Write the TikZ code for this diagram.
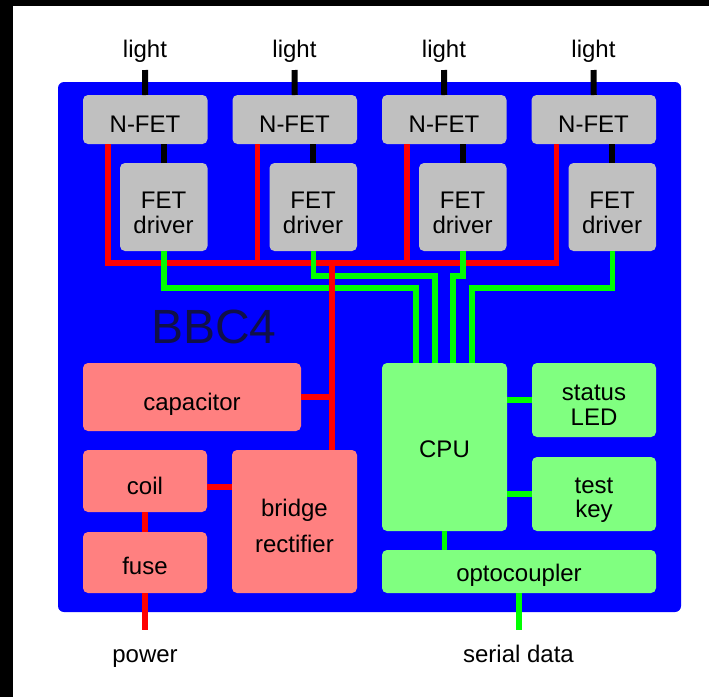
\documentclass[tikz,border=0pt]{standalone}
\usepackage{fontspec}
\setmainfont{Liberation Sans}
\definecolor{bluebg}{RGB}{0,0,255}
\definecolor{grayfill}{RGB}{192,192,192}
\definecolor{redfill}{RGB}{255,128,128}
\definecolor{greenfill}{RGB}{128,255,128}
\definecolor{redline}{RGB}{255,0,0}
\definecolor{greenline}{RGB}{0,255,0}
\definecolor{bbctext}{RGB}{16,16,72}
\tikzset{
  box/.style={draw=none, rounded corners=5pt, inner sep=0pt, outer sep=0pt, anchor=north west},
  graybox/.style={box, fill=grayfill},
  redbox/.style={box, fill=redfill},
  greenbox/.style={box, fill=greenfill},
  txt/.style={anchor=base, inner sep=0pt, font=\fontsize{24}{25}\selectfont},
  blackwire/.style={draw=black, line width=6pt},
  redwire/.style={draw=redline, line width=5.5pt, line join=miter},
  greenwire/.style={draw=greenline, line width=5.5pt, line join=miter},
}
\begin{document}
\begin{tikzpicture}[x=1pt,y=-1pt]
\useasboundingbox (0,0) rectangle (709,697);
\fill[white] (0,0) rectangle (709,697);
\fill[black] (0,0) rectangle (709,6);
\fill[black] (0,0) rectangle (13,697);
% main board
\fill[bluebg, rounded corners=6pt] (58,82) rectangle (681,612);
\node[anchor=base, inner sep=0pt, text=bbctext, font=\fontsize{48}{50}\selectfont] (bbc) at (214,343) {BBC4};
% N-FETs and drivers
\foreach \i/\x in {1/83, 2/232.5, 3/382, 4/531.5}{
  \node[graybox, minimum width=124.5pt, minimum height=49pt] (nfet\i) at (\x,95) {};
  \node[graybox, minimum width=87.5pt, minimum height=88pt] (drv\i) at (\x+37,163) {};
}
% power boxes
\node[redbox, minimum width=218pt, minimum height=68pt] (cap) at (83,363) {};
\node[redbox, minimum width=124pt, minimum height=62pt] (coil) at (83,450) {};
\node[redbox, minimum width=124pt, minimum height=61pt] (fuse) at (83,532) {};
\node[redbox, minimum width=125pt, minimum height=143pt] (bridge) at (232,450) {};
% logic boxes
\node[greenbox, minimum width=125pt, minimum height=168pt] (cpu) at (382,363) {};
\node[greenbox, minimum width=124pt, minimum height=74pt] (status) at (532,363) {};
\node[greenbox, minimum width=124pt, minimum height=74pt] (testkey) at (532,457) {};
\node[greenbox, minimum width=274pt, minimum height=43pt] (opto) at (382,550) {};
% coordinates
\coordinate (rbus) at (0,263);
\coordinate (rj) at (332,263);
\coordinate (pw) at (145,630);
\coordinate (sd) at (519,630);
\coordinate (g1) at (416,288);
\coordinate (g2) at (435,276);
\coordinate (g3) at (453,276);
\coordinate (g4) at (472,288);
% black wires
\foreach \i/\x in {1/145, 2/294.5, 3/444, 4/593.5}{
  \coordinate (lt\i) at (\x,70);
  \draw[blackwire] (nfet\i.north) -- (lt\i);
  \draw[blackwire] (drv\i.north) -- (drv\i.north |- nfet\i.south);
  \node[txt] (light\i) at (\x,57) {light};
}
% red bus
\draw[redwire] ([xshift=25pt]nfet1.south west) -- ([xshift=25pt]nfet1.south west |- rbus) -- ([xshift=25pt]nfet4.south west |- rbus) -- ([xshift=25pt]nfet4.south west);
\draw[redwire] ([xshift=25pt]nfet2.south west) -- ([xshift=25pt]nfet2.south west |- rbus);
\draw[redwire] ([xshift=25pt]nfet3.south west) -- ([xshift=25pt]nfet3.south west |- rbus);
% green driver lines
\draw[greenwire] (drv1.south) |- (g1) -- (g1 |- cpu.north);
\draw[greenwire] (drv2.south) |- (g2) -- (g2 |- cpu.north);
\draw[greenwire] (drv3.south) |- (g3) -- (g3 |- cpu.north);
\draw[greenwire] (drv4.south) |- (g4) -- (g4 |- cpu.north);
% red power lines
\draw[redwire] ([yshift=2.75pt]rj) -- (rj |- bridge.north);
\draw[redwire] (cap.east) -- (cap.east -| rj);
\draw[redwire] ([yshift=-6pt]coil.east) -- ([yshift=-6pt]coil.east -| bridge.west);
\draw[redwire] (coil.south) -- (fuse.north);
\draw[redwire] (fuse.south) -- (pw);
% green logic lines
\draw[greenwire] (status.west) -- (status.west -| cpu.east);
\draw[greenwire] (testkey.west) -- (testkey.west -| cpu.east);
\draw[greenwire] (cpu.south) -- (cpu.south |- opto.north);
\draw[greenwire] (opto.south) -- (sd);
% texts
\foreach \i/\x in {1/145, 2/294.5, 3/444, 4/593.5}{
  \node[txt] (nfett\i) at (\x,132) {N-FET};
  \node[txt] (drvta\i) at (\x+18.5,208) {FET};
  \node[txt] (drvtb\i) at (\x+18.5,233) {driver};
}
\node[txt] (capt) at (192,410) {capacitor};
\node[txt] (coilt) at (145,494) {coil};
\node[txt] (fuset) at (145,574) {fuse};
\node[txt] (bridgeta) at (294.5,516) {bridge};
\node[txt] (bridgetb) at (294.5,552) {rectifier};
\node[txt] (cput) at (444.5,457) {CPU};
\node[txt] (statusta) at (594,400) {status};
\node[txt] (statustb) at (594,425) {LED};
\node[txt] (testta) at (594,493) {test};
\node[txt] (testtb) at (594,517) {key};
\node[txt] (optot) at (519,581) {optocoupler};
\node[txt] (powert) at (145,662) {power};
\node[txt] (serialt) at (518.5,662) {serial data};
\end{tikzpicture}
\end{document}
